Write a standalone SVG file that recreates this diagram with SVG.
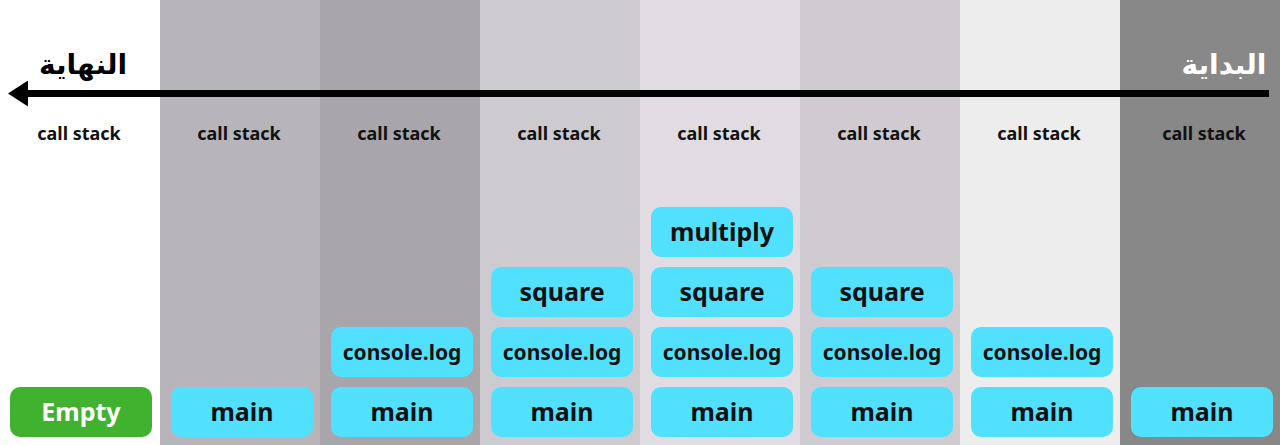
<svg xmlns="http://www.w3.org/2000/svg" width="1280" height="445" viewBox="0 0 1280 445">
<style>
.lbl{font-family:"Noto Sans","DejaVu Sans",sans-serif;font-weight:bold;font-size:18px;fill:#111;text-anchor:middle}
.box{fill:#52e0ff}
.bt{font-family:"Noto Sans","DejaVu Sans",sans-serif;font-weight:bold;font-size:25px;fill:#111;text-anchor:middle}
.bs{font-size:21px}
.ar{font-family:"Noto Sans","DejaVu Sans",sans-serif;font-weight:900;font-size:28px;text-anchor:middle}
</style>
<defs>
<marker id="ah" viewBox="0 0 20 26" refX="0" refY="13" markerWidth="20" markerHeight="26" markerUnits="userSpaceOnUse" orient="auto">
<path d="M0,0 L20,13 L0,26 Z" fill="#000"/>
</marker>
</defs>
<g id="columns">
<rect x="0" y="0" width="160" height="445" fill="#ffffff"/>
<rect x="160" y="0" width="160" height="445" fill="#b7b5ba"/>
<rect x="320" y="0" width="160" height="445" fill="#a8a6aa"/>
<rect x="480" y="0" width="160" height="445" fill="#cdcad0"/>
<rect x="640" y="0" width="160" height="445" fill="#e0dce2"/>
<rect x="800" y="0" width="160" height="445" fill="#d0cbd0"/>
<rect x="960" y="0" width="160" height="445" fill="#ededed"/>
<rect x="1120" y="0" width="160" height="445" fill="#888888"/>
</g>
<g id="connectors">
<line x1="1269" y1="93.5" x2="28" y2="93.5" stroke="#000" stroke-width="7" marker-end="url(#ah)"/>
</g>
<g id="title-end"><text class="ar" x="83" y="74" fill="#000">النهاية</text></g>
<g id="title-start"><text class="ar" x="1224" y="74" fill="#fff">البداية</text></g>
<g id="labels">
<text class="lbl" x="79" y="140">call stack</text>
<text class="lbl" x="239" y="140">call stack</text>
<text class="lbl" x="399" y="140">call stack</text>
<text class="lbl" x="559" y="140">call stack</text>
<text class="lbl" x="719" y="140">call stack</text>
<text class="lbl" x="879" y="140">call stack</text>
<text class="lbl" x="1039" y="140">call stack</text>
<text class="lbl" x="1204" y="140">call stack</text>
</g>
<g id="empty"><rect x="10" y="387" width="142" height="50" rx="10" fill="#41b22f"/><text class="bt" x="81" y="421" style="fill:#fff">Empty</text></g>
<g id="col1-main"><rect class="box" x="171" y="387" width="142" height="50" rx="10"/><text class="bt" x="242" y="421">main</text></g>
<g id="col2-main"><rect class="box" x="331" y="387" width="142" height="50" rx="10"/><text class="bt" x="402" y="421">main</text></g>
<g id="col2-log"><rect class="box" x="331" y="327" width="142" height="50" rx="10"/><text class="bt bs" x="402" y="360">console.log</text></g>
<g id="col3-main"><rect class="box" x="491" y="387" width="142" height="50" rx="10"/><text class="bt" x="562" y="421">main</text></g>
<g id="col3-log"><rect class="box" x="491" y="327" width="142" height="50" rx="10"/><text class="bt bs" x="562" y="360">console.log</text></g>
<g id="col3-square"><rect class="box" x="491" y="267" width="142" height="50" rx="10"/><text class="bt" x="562" y="301">square</text></g>
<g id="col4-main"><rect class="box" x="651" y="387" width="142" height="50" rx="10"/><text class="bt" x="722" y="421">main</text></g>
<g id="col4-log"><rect class="box" x="651" y="327" width="142" height="50" rx="10"/><text class="bt bs" x="722" y="360">console.log</text></g>
<g id="col4-square"><rect class="box" x="651" y="267" width="142" height="50" rx="10"/><text class="bt" x="722" y="301">square</text></g>
<g id="col4-multiply"><rect class="box" x="651" y="207" width="142" height="50" rx="10"/><text class="bt" x="722" y="241">multiply</text></g>
<g id="col5-main"><rect class="box" x="811" y="387" width="142" height="50" rx="10"/><text class="bt" x="882" y="421">main</text></g>
<g id="col5-log"><rect class="box" x="811" y="327" width="142" height="50" rx="10"/><text class="bt bs" x="882" y="360">console.log</text></g>
<g id="col5-square"><rect class="box" x="811" y="267" width="142" height="50" rx="10"/><text class="bt" x="882" y="301">square</text></g>
<g id="col6-main"><rect class="box" x="971" y="387" width="142" height="50" rx="10"/><text class="bt" x="1042" y="421">main</text></g>
<g id="col6-log"><rect class="box" x="971" y="327" width="142" height="50" rx="10"/><text class="bt bs" x="1042" y="360">console.log</text></g>
<g id="col7-main"><rect class="box" x="1131" y="387" width="142" height="50" rx="10"/><text class="bt" x="1202" y="421">main</text></g>
</svg>
